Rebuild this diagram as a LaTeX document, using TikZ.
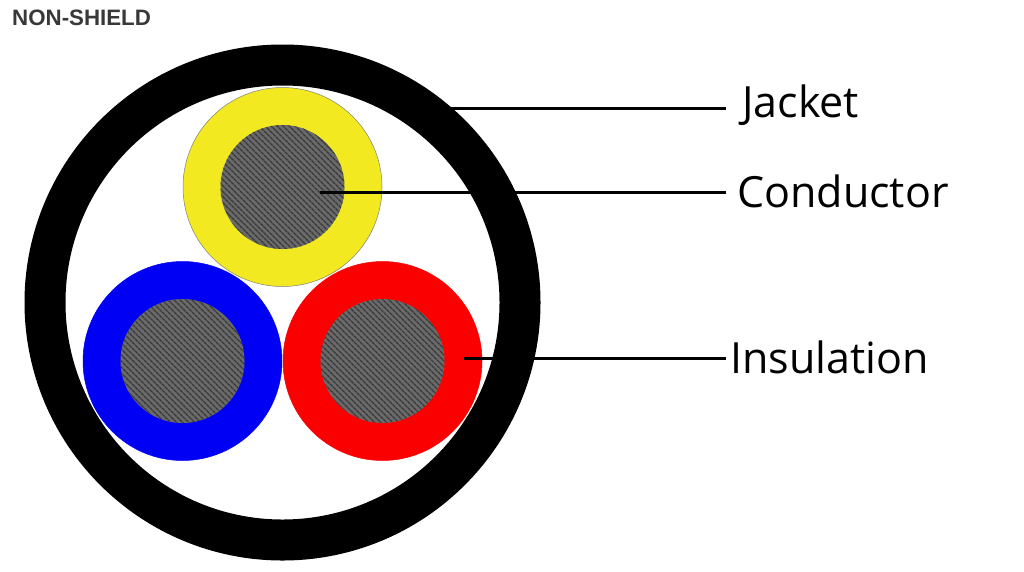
\documentclass[tikz,border=0pt]{standalone}
\usepackage{fontspec}
\setmainfont{Open Sans}
\newfontfamily\titlefont{Liberation Sans}
\usetikzlibrary{patterns.meta, positioning}
\definecolor{coreGrey}{HTML}{6A6A6A}
\definecolor{coreLine}{HTML}{383838}
\definecolor{wireYellow}{HTML}{F2E921}
\definecolor{wireBlue}{HTML}{0000F5}
\definecolor{wireRed}{HTML}{FB0000}
\begin{document}
\begin{tikzpicture}[
    x=1pt, y=-1pt,
    jacket/.style={circle, draw=black, line width=41pt, fill=white, minimum size=475pt, inner sep=0pt},
    insulation/.style={circle, draw=gray, line width=0.5pt, minimum size=199pt, inner sep=0pt},
    core/.style={circle, minimum size=124pt, inner sep=0pt, fill=coreGrey,
        postaction={pattern={Lines[angle=-45, distance=4pt, line width=1.5pt]}, pattern color=coreLine}},
    arrow/.style={line width=3pt},
    callout/.style={font=\fontsize{43}{50}\selectfont, text=black, inner ysep=0pt, anchor=base west}
]
\useasboundingbox (0,0) rectangle (1024,571);

% Cable
\node[jacket] (Jkt) at (282.5,302.5) {};
\node[insulation, fill=wireYellow] (InsY) at (282.5,187) {};
\node[insulation, fill=wireBlue, draw=wireBlue] (InsB) at (182.5,361) {};
\node[insulation, fill=wireRed, draw=wireRed] (InsR) at (382.5,361) {};
\node[core] (CoreY) at (InsY) {};
\node[core] (CoreB) at (InsB) {};
\node[core] (CoreR) at (InsR) {};

% Labels
\node[font=\titlefont\bfseries\fontsize{22.3}{26}\selectfont, text=black!78, inner sep=0pt, anchor=base west] (Title) at (12,25) {NON-SHIELD};
\node[callout, inner xsep=16pt] (LblJkt) at (726,117) {Jacket};
\node[callout, inner xsep=11pt] (LblCond) at (726,207) {Conductor};
\node[callout, inner xsep=4pt] (LblIns) at (726,373) {Insulation};

% Leader lines
\coordinate (TipJkt) at (450,108);
\coordinate (TipCond) at (320,192.5);
\coordinate (TipIns) at (464,358);
\draw[arrow] (TipJkt) -- (TipJkt -| LblJkt.west);
\draw[arrow] (TipCond) -- (TipCond -| LblCond.west);
\draw[arrow] (TipIns) -- (TipIns -| LblIns.west);

\end{tikzpicture}
\end{document}
